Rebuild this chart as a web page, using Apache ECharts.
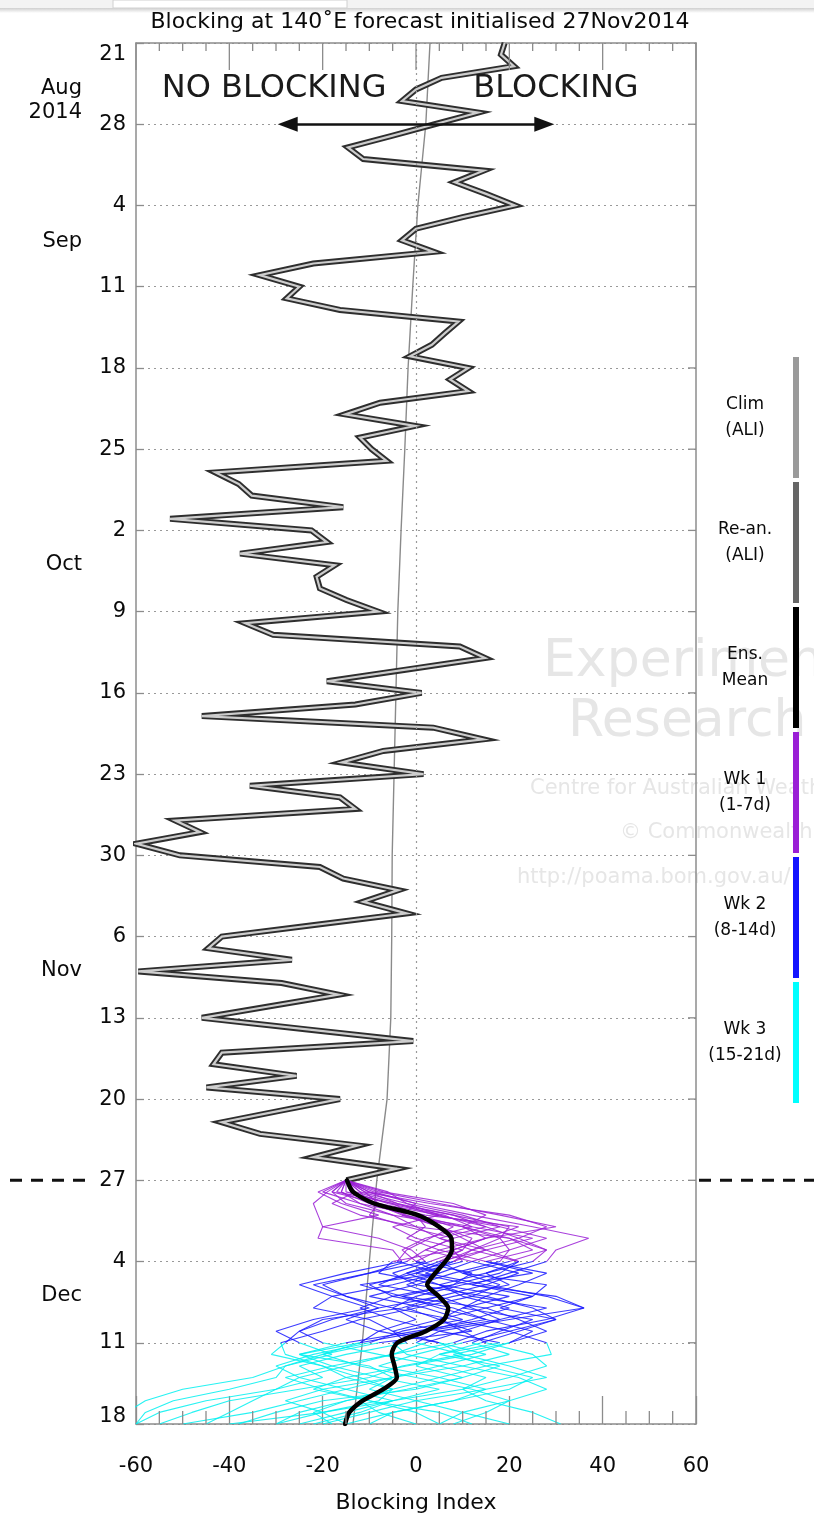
<!DOCTYPE html>
<html><head><meta charset="utf-8">
<script src="https://cdn.jsdelivr.net/npm/echarts@6/dist/echarts.min.js"></script>
<style>html,body{margin:0;padding:0;background:#fff}#c{width:814px;height:1519px}</style>
</head><body><div id="c"></div>
<script>
// ---------- DATA ----------
const weekTickLabels = ['21','28','4','11','18','25','2','9','16','23','30','6','13','20','27','4','11','18'];
const monthLabels = ['Aug','2014','Sep','Oct','Nov','Dec'];
const xTickValues = [-60,-40,-20,0,20,40,60];
const climDays   = [0,7,14,21,28,35,42,49,56,63,70,77,84,91,98,105,112,119];
const climValues = [3,2.1,0.4,-0.7,-1.7,-2.4,-3.2,-3.9,-4.3,-4.7,-5.1,-5.2,-5.4,-6.2,-8.4,-10,-11.5,-13.5];
const reanalysis = [
 19,18.2,21,5.5,0,-3,13.3,4,-5.2,-14.6,
 -11.3,14.5,8.3,15,21.2,10,0,-3,3.8,-22,
 -33.5,-25,-27.7,-16.3,9.1,6.2,3.4,-1.3,11.2,7.3,
 11.2,-7.7,-15.2,-0.2,-12,-9.5,-6.3,-43,-38,-35.2,
 -15.6,-52.7,-22.4,-19.1,-37.7,-17.4,-21.3,-20.6,-14.9,-8.1,
 -36.6,-30.6,9.4,14.8,-2.2,-19.1,1.2,-13,-45.9,3.7,
 14.4,-7,-15.9,1.6,-35.6,-16.3,-13,-51.6,-46.3,-59.9,
 -50.6,-20.6,-15.6,-3.8,-11.3,-2,-21.8,-41.6,-44.5,-26.6,
 -59.5,-28.8,-16.6,-31.3,-45.9,-23.3,-0.6,-41.6,-43.4,-25.6,
 -44.9,-16.3,-29,-41.6,-33.4,-12.4,-22,-4.1,-14.9
];
const forecastStartDay = 98;
const ensMean = [-14.8,-13.5,-9,0.4,4.9,7.6,7.7,6.3,4.1,2.4,4.9,6.9,6,2.1,-4,-5.2,-4.6,-4.1,-7,-11.5,-14.3,-15.2];
const member01 = [-15,-19,-22,-21,-20,-8,-1,2,-10,-20,-15,-5,0,-8,-12,-20,-28,-35,-50,-58,-62,-65];
const member02 = [-15,-10,0,12,25,37,30,28,20,12,30,36,20,5,0,10,20,28,15,0,-10,-20];
const member03 = [-15,-20,-12,-5,10,15,5,0,5,-5,-18,-22,-10,-5,-2,-15,-25,-20,-30,-45,-55,-60];
const member04 = [-15,-14,-8,5,15,22,28,20,10,28,25,15,5,10,15,25,28,20,10,15,25,31];
const member05 = [-15,-8,5,18,30,15,8,10,0,-10,-5,8,15,0,-15,-25,-10,-5,-20,-28,-20,-15];
const member06 = [-15,-16,-10,-2,5,12,10,3,-5,0,15,25,30,20,10,0,-8,5,15,8,-5,-10];
const member07 = [-15,-12,-2,10,18,8,2,-2,-10,-22,-15,-8,-18,-25,-28,-31,-20,-12,-5,-15,-25,-30];
const member08 = [-15,-18,-15,-5,0,20,25,15,25,10,0,-5,8,20,28,29,15,5,-5,-12,-8,0];
const member09 = [-15,-13,-18,-12,0,5,15,22,15,5,10,20,12,2,-5,-2,10,22,28,20,10,5];
const member10 = [-15,-6,-2,5,-5,0,10,5,10,18,12,0,-12,-20,-29,-28,-20,-15,-5,-8,-20,-40];
const member11 = [-15,-15,-5,8,20,18,20,12,5,-2,5,12,18,10,2,-5,-15,-25,-30,-35,-40,-45];
const member12 = [-15,-11,-8,0,2,-2,5,15,28,22,15,10,25,18,12,20,10,-5,-10,0,10,20];
const member13 = [-15,-17,-5,0,10,18,12,8,-2,-8,5,-3,-20,-25,-20,-8,5,15,10,-5,-15,-25];
const member14 = [-15,-12,-10,2,22,15,8,-5,-8,5,20,10,5,-5,5,15,5,-5,-15,-25,-35,-50];
const member15 = [-15,-9,0,-3,5,10,15,8,2,15,28,36,28,15,8,-5,-18,-28,-20,-10,0,5];
const member16 = [-15,-14,-6,6,12,2,-3,0,12,8,-5,-12,-5,5,18,5,0,10,0,-20,-30,-38];
const member17 = [-15,-21,-16,-8,-20,-21,-5,-3,-15,-25,-18,-10,-22,-30,-25,-18,-28,-30,-40,-52,-58,-60];
const member18 = [-15,-11,3,20,28,22,12,6,0,12,25,18,30,22,14,5,18,10,-2,-15,-22,-18];
const member19 = [-15,-16,-12,0,8,3,-2,-4,5,-12,-3,15,22,28,20,12,-2,-15,-22,-10,5,12];
const member20 = [-15,-7,8,15,10,20,28,25,15,20,8,-2,5,12,-8,-20,-12,0,12,20,15,8];
const member21 = [-15,-13,-4,4,18,28,20,18,8,0,-10,2,10,-3,-10,-22,-30,-25,-15,-5,-12,-22];
const member22 = [-15,-18,-8,-10,-2,8,2,12,22,15,5,-8,-15,-8,5,10,-3,-10,-25,-40,-48,-55];
const member23 = [-15,-10,-4,8,15,5,12,22,18,8,-3,5,15,25,20,8,15,25,20,8,-5,-15];
const member24 = [-15,-14,-9,-3,12,25,15,5,-2,5,12,28,18,2,-12,-25,-18,-8,5,-5,-20,-30];
const members = [member01,member02,member03,member04,member05,member06,member07,member08,
                 member09,member10,member11,member12,member13,member14,member15,member16,
                 member17,member18,member19,member20,member21,member22,member23,member24];
const legendTitles = ['Clim','Re-an.','Ens.','Wk 1','Wk 2','Wk 3'];
const legendSubtitles = ['(ALI)','(ALI)','Mean','(1-7d)','(8-14d)','(15-21d)'];

// ---------- CHART ----------
const FONT = 'DejaVu Sans';
const INK = '#0a0a0a';
const AX = '#8c8c8c';
const weekColors = ['#9a1fd6','#1a1aff','#00f0f0'];
const legendColors = ['#9a9a9a','#666666','#000000','#9a1fd6','#1414ff','#00ffff'];

const chart = echarts.init(document.getElementById('c'), null, {renderer:'canvas'});

const series = [];
series.push({type:'line', name:'Clim', data: climDays.map((d,i)=>[climValues[i], d]), symbol:'none',
  lineStyle:{color:'#8a8a8a', width:1.4}, z:2, silent:true,
  markLine:{silent:true, symbol:['none','none'], label:{show:false},
    lineStyle:{color:'#999', type:[2,4], width:1.2},
    data:[{xAxis:0}]}
});
const reanData = reanalysis.map((v,i)=>[v,i]);
series.push({type:'line', name:'Re-an.', data: reanData, symbol:'none',
  lineStyle:{color:'#2e2e2e', width:6, join:'miter', miterLimit:6}, z:3, silent:true});
series.push({type:'line', name:'Re-an. inner', data: reanData, symbol:'none',
  lineStyle:{color:'#cdcdcd', width:2.2, join:'miter', miterLimit:6}, z:4, silent:true});
members.forEach((m, mi) => {
  for (let w = 0; w < 3; w++) {
    const seg = [];
    for (let k = w*7; k <= w*7+7; k++) seg.push([m[k], forecastStartDay + k]);
    series.push({type:'line', name:'member'+(mi+1)+'_wk'+(w+1), data: seg, symbol:'none', silent:true,
      lineStyle:{color: weekColors[w], width:1.1, opacity:0.85}, z:5});
  }
});
series.push({type:'line', name:'Ens. Mean', data: ensMean.map((v,k)=>[v, forecastStartDay+k]), symbol:'none', silent:true,
  smooth:0.25, lineStyle:{color:'#000', width:4.5, join:'round', cap:'round'}, z:6});
// top-axis tick marks (every 5 units; taller every 20), as separate segments of one line series
const topTickData = [];
for (let v = -60; v <= 60; v += 5) {
  const major = xTickValues.indexOf(v) >= 0;
  topTickData.push([v, 0], [v, major ? 2.33 : 0.7], '-');
}
series.push({type:'line', name:'topticks', data: topTickData, symbol:'none', silent:true, connectNulls:false,
  lineStyle:{color:AX, width:1.3}, z:9});
// double-headed arrow
series.push({type:'line', name:'arrow', data:[], silent:true, z:7,
  markLine:{silent:true, symbol:['triangle','triangle'], symbolSize:[15,20], label:{show:false},
    lineStyle:{color:'#111', width:2.5, type:'solid'},
    data:[[{coord:[-27.5,7]},{coord:[27.5,7]}]]}
});

const axisLineStyle = {color:AX, width:1.5};
const option = {
  animation:false,
  backgroundColor:'#fff',
  title:{text:'Blocking at 140˚E forecast initialised 27Nov2014', left:415, top:6, textAlign:'center',
    textStyle:{fontFamily:FONT, fontSize:22, fontWeight:'normal', color:INK}},
  grid:{left:136, right:118, top:43, bottom:94, containLabel:false},
  xAxis:[
    {type:'value', min:-60, max:60, interval:20, position:'bottom',
     axisLine:{show:true, onZero:false, lineStyle:axisLineStyle},
     axisTick:{show:true, inside:true, length:28, lineStyle:{color:AX, width:1.3}},
     axisLabel:{fontFamily:FONT, fontSize:21, color:INK, margin:32},
     splitLine:{show:false}, minorSplitLine:{show:false},
     name:'Blocking Index', nameLocation:'middle', nameGap:68,
     nameTextStyle:{fontFamily:FONT, fontSize:22, color:INK}},
    {type:'value', min:-60, max:60, interval:20, position:'top',
     axisLine:{show:true, onZero:false, lineStyle:axisLineStyle},
     axisTick:{show:false}, axisLabel:{show:false}, splitLine:{show:false}}
  ],
  yAxis:[
    {type:'value', min:0, max:119, interval:7, inverse:true, position:'left',
     axisLine:{show:true, onZero:false, lineStyle:axisLineStyle},
     axisTick:{show:true, inside:true, length:8, lineStyle:{color:AX, width:1.3}},
     axisLabel:{fontFamily:FONT, fontSize:21, color:INK, margin:10, showMinLabel:true, showMaxLabel:true,
       formatter:function(v){
         const lab = weekTickLabels[Math.round(v/7)];
         if (v === 0) return '{first|' + lab + '}';
         if (v === 119) return '{last|' + lab + '}';
         return lab;
       },
       rich:{
         first:{fontFamily:FONT, fontSize:21, color:INK, padding:[24,0,0,0]},
         last:{fontFamily:FONT, fontSize:21, color:INK, padding:[0,0,14,0]}
       }},
     splitLine:{show:true, lineStyle:{color:'#999', type:[2,4], width:1.2}}},
    {type:'value', min:0, max:119, interval:7, inverse:true, position:'right',
     axisLine:{show:true, onZero:false, lineStyle:axisLineStyle},
     axisTick:{show:false}, axisLabel:{show:false}, splitLine:{show:false}}
  ],
  series: series
};
chart.setOption(option);

// ---------- annotations placed through the axes ----------
const xPix = v => chart.convertToPixel({xAxisIndex:0}, v);
const yPix = d => chart.convertToPixel({yAxisIndex:0}, d);
const W = 814;
const g = [];
g.push({type:'rect', shape:{x:0,y:0,width:W,height:8}, style:{fill:'#f3f3f3'}, z:0});
g.push({type:'rect', shape:{x:113,y:0,width:234,height:8}, style:{fill:'#ffffff', stroke:'#d0d0d0', lineWidth:1}, z:0});
g.push({type:'rect', shape:{x:0,y:8,width:W,height:5},
  style:{fill:new echarts.graphic.LinearGradient(0,0,0,1,[{offset:0,color:'#cfcfcf'},{offset:1,color:'#ffffff'}])}, z:0});
const wm = '#e6e6e6';
g.push({type:'text', x:543, y:662, z:0, style:{text:'Experimental', font:'52px "DejaVu Sans"', fill:wm, verticalAlign:'middle'}});
g.push({type:'text', x:568, y:722, z:0, style:{text:'Research', font:'52px "DejaVu Sans"', fill:wm, verticalAlign:'middle'}});
g.push({type:'text', x:530, y:789, z:0, style:{text:'Centre for Australian Weather and Climate Research', font:'21px "DejaVu Sans"', fill:wm, verticalAlign:'middle'}});
g.push({type:'text', x:620, y:833, z:0, style:{text:'© Commonwealth of Australia', font:'21px "DejaVu Sans"', fill:wm, verticalAlign:'middle'}});
g.push({type:'text', x:517, y:878, z:0, style:{text:'http://poama.bom.gov.au/', font:'21px "DejaVu Sans"', fill:wm, verticalAlign:'middle'}});
const yBotPx = yPix(119);
for (let v = -55; v <= 55; v += 5) {
  if (xTickValues.indexOf(v) >= 0) continue;
  const px = xPix(v);
  g.push({type:'line', z:10, shape:{x1:px, y1:yBotPx, x2:px, y2:yBotPx - 13}, style:{stroke:AX, lineWidth:1.3}});
}
const xRight = xPix(60);
for (let d = 7; d <= 112; d += 7) {
  const py = yPix(d);
  g.push({type:'line', z:10, shape:{x1:xRight, y1:py, x2:xRight - 8, y2:py}, style:{stroke:AX, lineWidth:1.3}});
}
const monthDay = [3.9, 6.0, 17.1, 44.9, 79.9, 107.9];
monthLabels.forEach((t,i)=>{
  g.push({type:'text', x:82, y:yPix(monthDay[i]), z:10,
    style:{text:t, font:'21px "DejaVu Sans"', fill:INK, align:'right', verticalAlign:'middle'}});
});
g.push({type:'text', x:xPix(-30.4), y:yPix(3.9), z:10,
  style:{text:'NO BLOCKING', font:'32px "DejaVu Sans"', fill:'#1a1a1a', align:'center', verticalAlign:'middle'}});
g.push({type:'text', x:xPix(30), y:yPix(3.9), z:10,
  style:{text:'BLOCKING', font:'32px "DejaVu Sans"', fill:'#1a1a1a', align:'center', verticalAlign:'middle'}});
const yStart = yPix(forecastStartDay);
g.push({type:'line', shape:{x1:10,y1:yStart,x2:90,y2:yStart}, style:{stroke:'#111', lineWidth:3, lineDash:[12,9]}, z:10});
g.push({type:'line', shape:{x1:699,y1:yStart,x2:W,y2:yStart}, style:{stroke:'#111', lineWidth:3, lineDash:[12,9]}, z:10});
const legTop = 355, legStep = 125;
legendTitles.forEach((t,i)=>{
  const y0 = legTop + i*legStep;
  g.push({type:'rect', shape:{x:793, y:y0 + 2, width:6, height:legStep - 4}, style:{fill:legendColors[i]}, z:10});
  g.push({type:'text', x:745, y:y0 + 50, z:10, style:{text:t, font:'17px "DejaVu Sans"', fill:INK, align:'center', verticalAlign:'middle'}});
  g.push({type:'text', x:745, y:y0 + 76, z:10, style:{text:legendSubtitles[i], font:'17px "DejaVu Sans"', fill:INK, align:'center', verticalAlign:'middle'}});
});
chart.setOption({graphic:{elements:g}});
</script></body></html>
